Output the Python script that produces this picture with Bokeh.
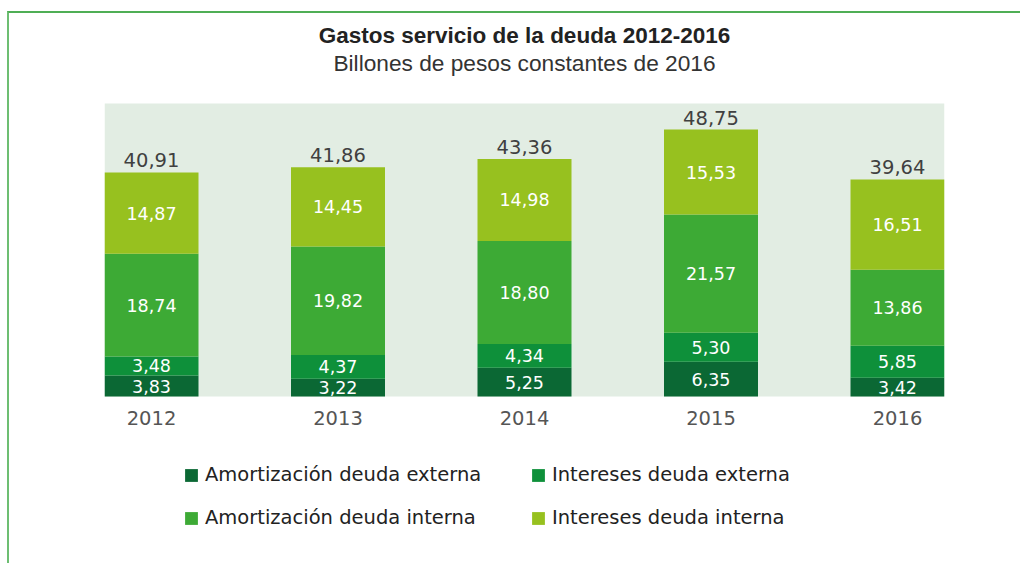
from bokeh.plotting import figure
from bokeh.models import ColumnDataSource, FixedTicker, Legend, LegendItem, Label, BoxAnnotation
from bokeh.core.properties import value
from bokeh.embed import file_html
from bokeh.resources import INLINE

# ---- data ----
years = ["2012", "2013", "2014", "2015", "2016"]
amort_ext = [3.83, 3.22, 5.25, 6.35, 3.42]
int_ext = [3.48, 4.37, 4.34, 5.30, 5.85]
amort_int = [18.74, 19.82, 18.80, 21.57, 13.86]
int_int = [14.87, 14.45, 14.98, 15.53, 16.51]
totals = [40.91, 41.86, 43.36, 48.75, 39.64]
series_names = ["Amortización deuda externa", "Intereses deuda externa",
                "Amortización deuda interna", "Intereses deuda interna"]
colors = ["#0B6834", "#0E903A", "#3DAA35", "#97C11F"]
title_text = "Gastos servicio de la deuda 2012-2016"
subtitle_text = "Billones de pesos constantes de 2016"

LABEL_FONT = value("DejaVu Sans")
PX_PER_UNIT = 5.4766
PLOT_TOP = 53.5                      # top of the light green plot area
Y_HIGH = PLOT_TOP + 90 / PX_PER_UNIT  # room above for the titles
Y_LOW = -133 / PX_PER_UNIT           # room below for year labels and legend


def fmt(v):
    return f"{v:.2f}".replace(".", ",")


xs = list(range(len(years)))
keys = ["ae", "ie", "ai", "ii"]
stacks = [amort_ext, int_ext, amort_int, int_int]
src = ColumnDataSource(dict(x=xs, **{k: s for k, s in zip(keys, stacks)}))

# segment label positions (middle of each segment)
seg_x, seg_y, seg_t = [], [], []
for i in xs:
    bottom = 0.0
    for s in stacks:
        seg_x.append(i)
        seg_y.append(bottom + s[i] / 2)
        seg_t.append(fmt(s[i]))
        bottom += s[i]
seg_src = ColumnDataSource(dict(x=seg_x, y=seg_y, t=seg_t))
tot_src = ColumnDataSource(dict(x=xs, y=totals, t=[fmt(v) for v in totals]))

p = figure(frame_width=840, frame_height=516, x_range=(-0.252, 4.252), y_range=(Y_LOW, Y_HIGH),
           output_backend="svg", toolbar_location=None,
           min_border_left=95, min_border_right=76, min_border_top=0, min_border_bottom=34)
p.styles = {"border-top": "2px solid #4FAE55", "border-left": "2px solid #6DBE72",
            "margin-left": "7px", "margin-top": "11px"}

# light green plot area behind the bars
p.add_layout(BoxAnnotation(bottom=0, top=PLOT_TOP, fill_color="#E2EDE3", fill_alpha=1,
                           line_color=None, level="underlay"))

renderers = p.vbar_stack(keys, x="x", width=0.504, color=colors, line_color=None, source=src)

p.text(x="x", y="y", text="t", source=seg_src, text_align="center", text_baseline="middle",
       text_color="white", text_font=LABEL_FONT, text_font_size="17.5px")
p.text(x="x", y="y", text="t", source=tot_src, text_align="center", text_baseline="bottom",
       y_offset=-5, text_color="#404040", text_font=LABEL_FONT, text_font_size="19.5px")

# titles, centred over the plot area
center_x = (xs[0] + xs[-1]) / 2
p.add_layout(Label(x=center_x, y=PLOT_TOP + 68 / PX_PER_UNIT, text=title_text,
                   text_align="center", text_baseline="alphabetic",
                   text_font="Liberation Sans", text_font_style="bold",
                   text_font_size="22.5px", text_color="#222222"))
p.add_layout(Label(x=center_x, y=PLOT_TOP + 41 / PX_PER_UNIT, text=subtitle_text,
                   text_align="center", text_baseline="alphabetic",
                   text_font="Liberation Sans", text_font_style="normal",
                   text_font_size="22.7px", text_color="#333333"))

# axes
p.xaxis.fixed_location = 0
p.xaxis.ticker = FixedTicker(ticks=xs)
p.xaxis.major_label_overrides = {i: y for i, y in zip(xs, years)}
p.xaxis.axis_line_color = None
p.xaxis.major_tick_line_color = None
p.xaxis.minor_tick_line_color = None
p.xaxis.major_label_text_font = "DejaVu Sans"
p.xaxis.major_label_text_font_size = "19.5px"
p.xaxis.major_label_text_color = "#555555"
p.xaxis.major_label_standoff = 9
p.yaxis.visible = False
p.xgrid.visible = False
p.ygrid.visible = False
p.background_fill_color = "white"
p.border_fill_color = "white"
p.outline_line_color = None

# legend
legend = Legend(items=[LegendItem(label=n, renderers=[r]) for n, r in zip(series_names, renderers)],
                orientation="horizontal", ncols=2, glyph_width=16, glyph_height=16,
                label_standoff=6, label_text_font="DejaVu Sans", label_text_font_size="19.5px",
                label_text_color="#222222", spacing=20, label_width=305, label_height=23,
                padding=0, margin=0, border_line_color=None, background_fill_alpha=0,
                location=(79, 0))
p.add_layout(legend)

open("out.html", "w").write(file_html(p, INLINE))
